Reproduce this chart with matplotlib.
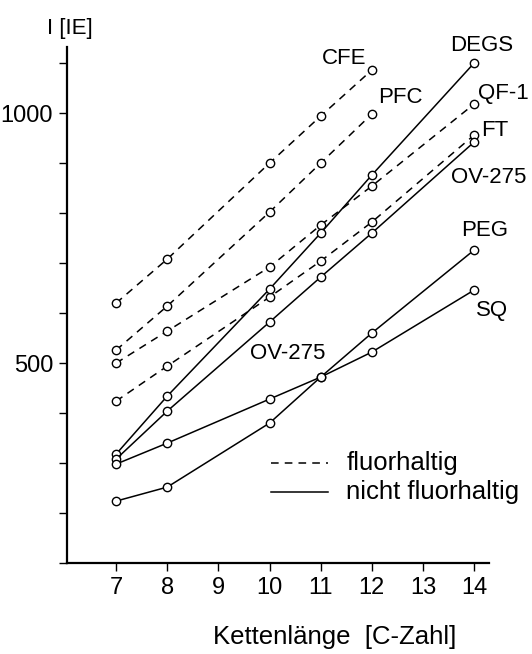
import matplotlib
matplotlib.use("Agg")
import matplotlib.pyplot as plt

plt.rcParams['font.family'] = ['Liberation Sans', 'DejaVu Sans']

# chain length (C number)
x_short = [7, 8, 10, 11, 12]
x_long = [7, 8, 10, 11, 12, 14]

# fluorinated phases (dashed)
cfe = [620, 708, 900, 994, 1086]
pfc = [526, 614, 802, 900, 998]
qf1 = [500, 564, 692, 776, 854, 1018]
ft = [424, 494, 632, 704, 782, 956]

# non-fluorinated phases (solid)
degs = [318, 434, 648, 760, 876, 1100]
ov275 = [308, 404, 582, 672, 760, 942]
peg = [224, 252, 380, 472, 560, 726]
sq = [298, 340, 428, 472, 522, 646]

x_ticks = [7, 8, 9, 10, 11, 12, 13, 14]
y_ticks = [100, 200, 300, 400, 500, 600, 700, 800, 900, 1000, 1100]
y_labels = ['', '', '', '', '500', '', '', '', '', '1000', '']

fig = plt.figure(figsize=(5.32, 6.54), dpi=100)
ax = fig.add_axes([0.126, 0.139, 0.793, 0.789])

mk = dict(marker='o', ms=6, mfc='white', mec='black', mew=1.0, color='black', lw=1.1)
for xs, ys in [(x_short, cfe), (x_short, pfc), (x_long, qf1), (x_long, ft)]:
    ax.plot(xs, ys, dashes=(5, 4), **mk)
for xs, ys in [(x_long, degs), (x_long, ov275), (x_long, peg), (x_long, sq)]:
    ax.plot(xs, ys, **mk)

ax.set_xlim(6.04, 14.29)
ax.set_ylim(100, 1132)
for s in ['top', 'right']:
    ax.spines[s].set_visible(False)
for s in ['left', 'bottom']:
    ax.spines[s].set_linewidth(1.6)

ax.set_xticks(x_ticks)
ax.set_xticklabels([str(v) for v in x_ticks], fontsize=17)
ax.set_yticks(y_ticks)
ax.set_yticklabels(y_labels, fontsize=17)
ax.tick_params(axis='both', direction='out', length=6, width=1.0, pad=4)

# series labels
lab = dict(fontsize=16, va='center')
ax.text(11.89, 1110, 'CFE', ha='right', **lab)
ax.text(12.12, 1032, 'PFC', ha='left', **lab)
ax.text(14.14, 1136, 'DEGS', ha='center', **lab)
ax.text(14.08, 1040, 'QF-1', ha='left', **lab)
ax.text(14.14, 966, 'FT', ha='left', **lab)
ax.text(13.55, 872, 'OV-275', ha='left', **lab)
ax.text(13.75, 766, 'PEG', ha='left', **lab)
ax.text(14.04, 606, 'SQ', ha='left', **lab)
ax.text(9.62, 520, 'OV-275', ha='left', **lab)

# legend drawn by hand
ax.plot([10.03, 11.15], [300, 300], color='black', lw=1.1, dashes=(5, 4))
ax.plot([10.03, 11.15], [242, 242], color='black', lw=1.1)
ax.text(11.5, 300, 'fluorhaltig', fontsize=18.5, va='center', ha='left')
ax.text(11.5, 242, 'nicht fluorhaltig', fontsize=18.5, va='center', ha='left')

ax.text(5.65, 1170, 'I [IE]', fontsize=16, va='center', ha='left', clip_on=False)
ax.text(8.9, -48, 'Kettenlänge  [C-Zahl]', fontsize=18.5, va='center', ha='left', clip_on=False)

fig.savefig('out.png', dpi=100)
